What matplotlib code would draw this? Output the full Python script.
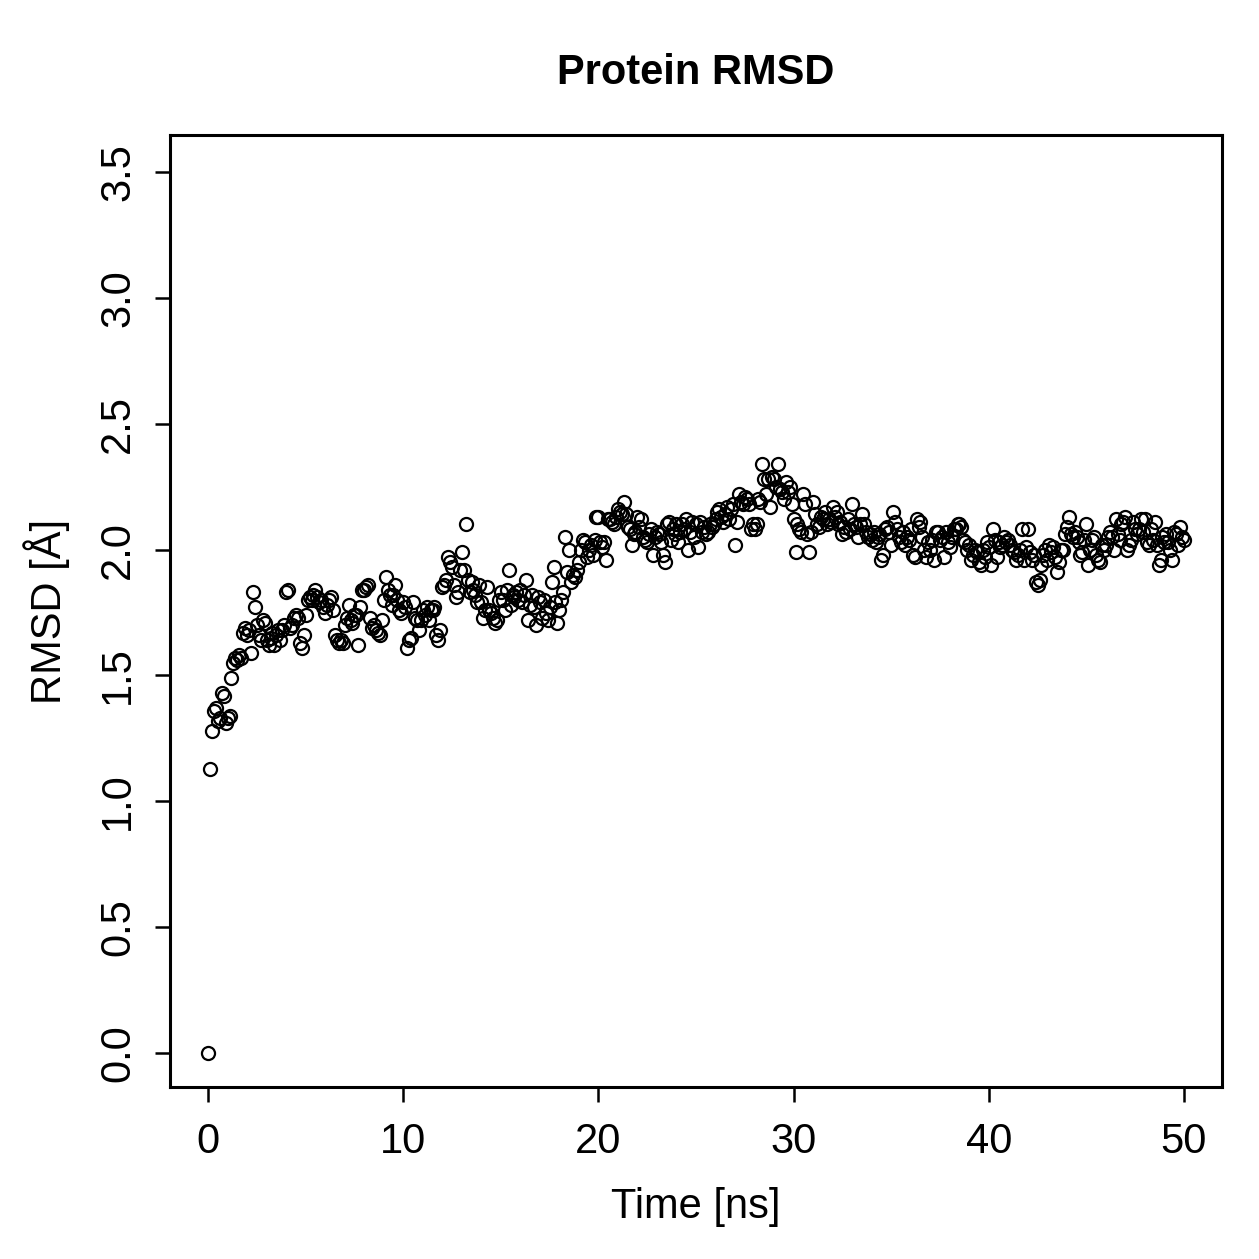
import matplotlib
matplotlib.use("Agg")
import matplotlib.pyplot as plt
import numpy as np

plt.rcParams['font.family'] = ['Liberation Sans', 'DejaVu Sans']

title = "Protein RMSD"
xlabel = "Time [ns]"
ylabel = "RMSD [Å]"
xticks = [0, 10, 20, 30, 40, 50]
yticks = [0.0, 0.5, 1.0, 1.5, 2.0, 2.5, 3.0, 3.5]

# RMSD values, one list per nanosecond (0.1 ns sampling)
rmsd_00 = [0.00, 1.13, 1.28, 1.36, 1.37, 1.32, 1.33, 1.43, 1.42, 1.31]
rmsd_01 = [1.33, 1.34, 1.49, 1.55, 1.57, 1.56, 1.58, 1.57, 1.67, 1.69]
rmsd_02 = [1.66, 1.68, 1.59, 1.83, 1.77, 1.70, 1.66, 1.64, 1.72, 1.71]
rmsd_03 = [1.64, 1.62, 1.65, 1.67, 1.62, 1.66, 1.68, 1.64, 1.68, 1.70]
rmsd_04 = [1.83, 1.84, 1.69, 1.70, 1.73, 1.74, 1.73, 1.63, 1.61, 1.66]
rmsd_05 = [1.74, 1.80, 1.81, 1.80, 1.82, 1.84, 1.81, 1.79, 1.80, 1.77]
rmsd_06 = [1.75, 1.78, 1.80, 1.81, 1.76, 1.66, 1.64, 1.63, 1.64, 1.63]
rmsd_07 = [1.70, 1.73, 1.78, 1.72, 1.71, 1.74, 1.74, 1.62, 1.77, 1.84]
rmsd_08 = [1.84, 1.85, 1.86, 1.73, 1.69, 1.70, 1.68, 1.67, 1.66, 1.72]
rmsd_09 = [1.80, 1.89, 1.84, 1.82, 1.78, 1.82, 1.86, 1.80, 1.76, 1.75]
rmsd_10 = [1.79, 1.77, 1.61, 1.64, 1.65, 1.79, 1.73, 1.72, 1.68, 1.72]
rmsd_11 = [1.76, 1.74, 1.77, 1.72, 1.76, 1.76, 1.77, 1.66, 1.64, 1.68]
rmsd_12 = [1.85, 1.86, 1.88, 1.97, 1.95, 1.93, 1.86, 1.81, 1.83, 1.92]
rmsd_13 = [1.99, 1.92, 2.10, 1.88, 1.83, 1.87, 1.84, 1.82, 1.79, 1.86]
rmsd_14 = [1.79, 1.73, 1.76, 1.85, 1.76, 1.75, 1.73, 1.71, 1.72, 1.80]
rmsd_15 = [1.83, 1.80, 1.76, 1.84, 1.92, 1.78, 1.82, 1.81, 1.83, 1.80]
rmsd_16 = [1.84, 1.79, 1.82, 1.88, 1.72, 1.78, 1.82, 1.77, 1.70, 1.81]
rmsd_17 = [1.79, 1.73, 1.80, 1.75, 1.72, 1.77, 1.87, 1.93, 1.79, 1.71]
rmsd_18 = [1.76, 1.80, 1.83, 2.05, 1.91, 2.00, 1.87, 1.90, 1.89, 1.92]
rmsd_19 = [1.95, 2.00, 2.04, 2.03, 1.97, 2.00, 2.02, 1.98, 2.04, 2.13]
rmsd_20 = [2.13, 2.03, 2.01, 2.03, 1.96, 2.12, 2.12, 2.11, 2.10, 2.13]
rmsd_21 = [2.16, 2.15, 2.14, 2.19, 2.14, 2.09, 2.08, 2.02, 2.06, 2.07]
rmsd_22 = [2.13, 2.09, 2.12, 2.05, 2.04, 2.03, 2.06, 2.08, 1.98, 2.05]
rmsd_23 = [2.07, 2.06, 2.03, 1.98, 1.95, 2.10, 2.11, 2.04, 2.08, 2.06]
rmsd_24 = [2.10, 2.03, 2.07, 2.10, 2.08, 2.12, 2.00, 2.07, 2.11, 2.05]
rmsd_25 = [2.10, 2.01, 2.11, 2.07, 2.09, 2.06, 2.07, 2.10, 2.09, 2.10]
rmsd_26 = [2.12, 2.15, 2.16, 2.13, 2.11, 2.14, 2.17, 2.12, 2.16, 2.18]
rmsd_27 = [2.02, 2.11, 2.22, 2.19, 2.18, 2.21, 2.20, 2.18, 2.08, 2.10]
rmsd_28 = [2.08, 2.10, 2.20, 2.19, 2.34, 2.28, 2.22, 2.28, 2.17, 2.29]
rmsd_29 = [2.28, 2.25, 2.34, 2.24, 2.23, 2.20, 2.27, 2.23, 2.25, 2.18]
rmsd_30 = [2.12, 1.99, 2.10, 2.08, 2.07, 2.22, 2.18, 2.06, 1.99, 2.07]
rmsd_31 = [2.19, 2.14, 2.10, 2.09, 2.13, 2.12, 2.15, 2.10, 2.12, 2.11]
rmsd_32 = [2.17, 2.13, 2.15, 2.10, 2.11, 2.06, 2.09, 2.07, 2.12, 2.08]
rmsd_33 = [2.18, 2.10, 2.09, 2.05, 2.10, 2.14, 2.10, 2.07, 2.05, 2.06]
rmsd_34 = [2.04, 2.07, 2.03, 2.05, 2.06, 1.96, 1.98, 2.08, 2.09, 2.07]
rmsd_35 = [2.02, 2.15, 2.11, 2.08, 2.05, 2.03, 2.07, 2.02, 2.05, 2.04]
rmsd_36 = [2.08, 1.98, 1.97, 2.12, 2.09, 2.11, 2.05, 2.00, 1.97, 2.03]
rmsd_37 = [2.00, 2.04, 1.96, 2.07, 2.07, 2.04, 2.05, 1.97, 2.07, 2.03]
rmsd_38 = [2.01, 2.05, 2.08, 2.08, 2.10, 2.10, 2.09, 2.04, 2.03, 2.00]
rmsd_39 = [2.02, 1.96, 1.98, 2.00, 1.99, 1.95, 1.94, 2.00, 1.97, 2.03]
rmsd_40 = [2.01, 1.94, 2.08, 2.04, 1.97, 2.03, 2.01, 2.02, 2.05, 2.03]
rmsd_41 = [2.04, 2.02, 2.00, 1.99, 1.96, 1.98, 2.00, 2.08, 1.96, 2.01]
rmsd_42 = [2.08, 1.99, 1.96, 1.98, 1.87, 1.86, 1.88, 1.94, 1.98, 2.00]
rmsd_43 = [1.96, 2.02, 1.99, 2.01, 1.97, 1.91, 1.95, 2.00, 2.00, 2.06]
rmsd_44 = [2.09, 2.13, 2.06, 2.05, 2.07, 2.05, 2.03, 1.98, 1.99, 2.04]
rmsd_45 = [2.10, 1.94, 2.00, 2.04, 2.05, 1.98, 1.96, 1.95, 2.02, 2.00]
rmsd_46 = [2.02, 2.05, 2.07, 2.05, 2.00, 2.12, 2.06, 2.04, 2.10, 2.11]
rmsd_47 = [2.13, 2.00, 2.02, 2.04, 2.11, 2.08, 2.06, 2.08, 2.12, 2.07]
rmsd_48 = [2.12, 2.03, 2.02, 2.08, 2.04, 2.11, 2.02, 1.94, 1.96, 2.05]
rmsd_49 = [2.03, 2.06, 2.03, 2.00, 1.96, 2.07, 2.06, 2.02, 2.09, 2.05]
rmsd_50 = [2.04]

chunks = [rmsd_00, rmsd_01, rmsd_02, rmsd_03, rmsd_04, rmsd_05, rmsd_06, rmsd_07,
          rmsd_08, rmsd_09, rmsd_10, rmsd_11, rmsd_12, rmsd_13, rmsd_14, rmsd_15,
          rmsd_16, rmsd_17, rmsd_18, rmsd_19, rmsd_20, rmsd_21, rmsd_22, rmsd_23,
          rmsd_24, rmsd_25, rmsd_26, rmsd_27, rmsd_28, rmsd_29, rmsd_30, rmsd_31,
          rmsd_32, rmsd_33, rmsd_34, rmsd_35, rmsd_36, rmsd_37, rmsd_38, rmsd_39,
          rmsd_40, rmsd_41, rmsd_42, rmsd_43, rmsd_44, rmsd_45, rmsd_46, rmsd_47,
          rmsd_48, rmsd_49, rmsd_50]
rmsd = np.concatenate([np.array(c, dtype=float) for c in chunks])
time_ns = np.arange(len(rmsd)) * 0.1

fig = plt.figure(figsize=(12.59, 12.59), dpi=100)
ax = fig.add_axes([170/1259, 1 - 1087/1259, (1222-170)/1259, (1087-135)/1259])

ax.plot(time_ns, rmsd, linestyle='none', marker='o', markerfacecolor='none',
        markeredgecolor='black', markersize=9.4, markeredgewidth=1.6)

ax.set_xlim(-1.95, 51.95)
ax.set_ylim(-0.135, 3.647)
ax.set_xticks(xticks)
ax.set_xticklabels([str(t) for t in xticks])
ax.set_yticks(yticks)
ax.set_yticklabels([f"{t:.1f}" for t in yticks], rotation=90, va='center')

for s in ax.spines.values():
    s.set_linewidth(2.2)
ax.tick_params(axis='both', length=11, width=1.8, labelsize=30)
ax.tick_params(axis='x', pad=14)
ax.tick_params(axis='y', pad=12)

ax.set_xlabel(xlabel, fontsize=30, labelpad=18)
ax.set_ylabel(ylabel, fontsize=30, labelpad=20)
ax.set_title(title, fontsize=30, fontweight='bold', pad=37)

fig.savefig("out.png", dpi=100)
